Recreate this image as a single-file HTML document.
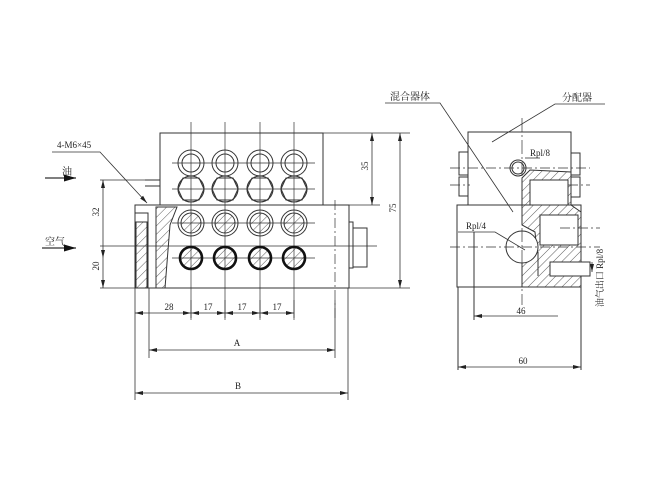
<!DOCTYPE html>
<html><head><meta charset="utf-8"><style>
html,body{margin:0;padding:0;background:#fff;}
svg{display:block;}
text{font-family:"Liberation Serif","Noto Serif CJK SC",serif;fill:#222;}
</style></head><body>
<svg width="651" height="489" viewBox="0 0 651 489" xmlns="http://www.w3.org/2000/svg">
<defs>
<pattern id="h" width="6" height="6" patternUnits="userSpaceOnUse" patternTransform="rotate(45)">
<line x1="0" y1="0" x2="0" y2="6" stroke="#333" stroke-width="0.8"/></pattern>
<marker id="a" markerWidth="8" markerHeight="6" refX="8" refY="3" orient="auto-start-reverse" markerUnits="userSpaceOnUse"><path d="M0,1 L8,3 L0,5z" fill="#222"/></marker>
<marker id="b" markerWidth="12" markerHeight="8" refX="12" refY="4" orient="auto" markerUnits="userSpaceOnUse"><path d="M0,0.5 L12,4 L0,7.5z" fill="#111"/></marker>
<g id="c1"><circle r="13" fill="none" stroke="#333" stroke-width="1"/><circle r="9" fill="none" stroke="#333" stroke-width="1"/></g>
<g id="c2"><path d="M-13,0 L-8,-11 L8,-11 L13,0 L8,11 L-8,11z" fill="none" stroke="#333"/><circle r="13" fill="none" stroke="#333" stroke-width="1.1"/></g>
<g id="c3"><circle r="13" fill="none" stroke="#333"/><circle r="10" fill="url(#h)" stroke="#333"/></g>
<g id="c4"><circle r="11" fill="url(#h)" stroke="#111" stroke-width="2.6"/></g>
</defs>
<g stroke="#333" stroke-width="1" fill="none">
<rect x="160" y="133" width="163" height="72"/>
<rect x="135" y="205" width="214" height="83"/>
<rect x="349" y="222" width="4" height="46"/>
<rect x="353" y="228" width="14" height="39"/>
<path d="M135,213 H148 V288" />
<path d="M136,222 H147 V288 H136z" fill="url(#h)"/>
<path d="M156,207 L177,207 L170,225 L165,288 L156,288z" fill="url(#h)"/>
<path d="M160,180 H145 M160,186 H145" />
<g stroke-width="0.7">
<path d="M191,122 V320 M225,122 V320 M260,122 V320 M294,122 V320"/>
<path d="M172,163 H315 M172,189 H315 M172,223 H315 M172,258 H315"/>
<path d="M100,246 H377"/>
<path d="M335,200 V320" stroke-dasharray="10,3,2,3"/>
</g>
</g>
<use href="#c1" x="191" y="163"/><use href="#c1" x="225" y="163"/><use href="#c1" x="260" y="163"/><use href="#c1" x="294" y="163"/>
<use href="#c2" x="191" y="189"/><use href="#c2" x="225" y="189"/><use href="#c2" x="260" y="189"/><use href="#c2" x="294" y="189"/>
<use href="#c3" x="191" y="223"/><use href="#c3" x="225" y="223"/><use href="#c3" x="260" y="223"/><use href="#c3" x="294" y="223"/>
<use href="#c4" x="191" y="258"/><use href="#c4" x="225" y="258"/><use href="#c4" x="260" y="258"/><use href="#c4" x="294" y="258"/>

<g stroke="#333" stroke-width="0.8" fill="none">
<path d="M100,180 H160 M100,288 H135"/>
<path d="M103,180 V258" marker-start="url(#a)" marker-end="url(#a)"/>
<path d="M103,258 V288" marker-end="url(#a)"/>
<path d="M323,133 H410 M349,288 H410 M349,205 H380"/>
<path d="M372,133 V205" marker-start="url(#a)" marker-end="url(#a)"/>
<path d="M400,133 V288" marker-start="url(#a)" marker-end="url(#a)"/>
<path d="M52,152 H100 L147,203" marker-end="url(#a)"/>
<path d="M45,178 H76" marker-end="url(#b)" stroke-width="1.2"/>
<path d="M42,248 H76" marker-end="url(#b)" stroke-width="1.2"/>
<path d="M135,288 V400 M149,288 V358 M191,300 V318 M225,300 V318 M260,300 V318 M294,300 V318 M335,300 V358 M348,288 V400"/>
<path d="M135,313 H191" marker-start="url(#a)" marker-end="url(#a)"/>
<path d="M191,313 H225" marker-start="url(#a)" marker-end="url(#a)"/>
<path d="M225,313 H260" marker-start="url(#a)" marker-end="url(#a)"/>
<path d="M260,313 H294" marker-start="url(#a)" marker-end="url(#a)"/>
<path d="M149,350 H335" marker-start="url(#a)" marker-end="url(#a)"/>
<path d="M135,393 H348" marker-start="url(#a)" marker-end="url(#a)"/>
</g>
<text x="57" y="148" font-size="9">4-M6×45</text>
<text x="62" y="175" font-size="10">油</text>
<text x="45" y="245" font-size="10">空气</text>
<text x="99" y="212" font-size="9" transform="rotate(-90 99 212)" text-anchor="middle">32</text>
<text x="99" y="266" font-size="9" transform="rotate(-90 99 266)" text-anchor="middle">20</text>
<text x="368" y="166" font-size="9" transform="rotate(-90 368 166)" text-anchor="middle">35</text>
<text x="396" y="208" font-size="9" transform="rotate(-90 396 208)" text-anchor="middle">75</text>
<g font-size="9" text-anchor="middle">
<text x="169" y="310">28</text><text x="208" y="310">17</text><text x="242" y="310">17</text><text x="277" y="310">17</text>
<text x="237" y="346">A</text><text x="238" y="389">B</text>
<text x="521" y="314">46</text><text x="523" y="364">60</text>
</g>

<g stroke="#333" stroke-width="1" fill="none">
<rect x="468" y="132" width="103" height="73"/>
<rect x="457" y="205" width="124" height="82"/>
<rect x="459" y="152" width="9" height="23"/><rect x="459" y="177" width="9" height="19"/>
<rect x="571" y="153" width="9" height="22"/><rect x="571" y="177" width="9" height="20"/>
<path d="M522,178 L530,170 L571,172 L571,205 L581,212 L581,287 L522,287 L522,262 A16,16 0 0 0 537,252 L535,232 L522,225 Z" fill="url(#h)"/>
<path d="M530,180 H568 V205 H530z" fill="#fff"/>
<path d="M540,215 H578 V245 H540z" fill="#fff"/>
<path d="M550,262 H590 V276 H550z" fill="#fff"/>
<path d="M538,252 V276"/>
<circle cx="522" cy="247" r="16" fill="#fff"/>
<circle cx="518" cy="168" r="8" fill="#fff"/>
<circle cx="518" cy="168" r="6"/>
<g stroke-width="0.7">
<path d="M522,118 V305" stroke-dasharray="14,3,2,3"/>
<path d="M450,168 H590 M450,185 H470 M568,185 H590 M450,247 H600 M560,228 H600" stroke-dasharray="10,3,2,3"/>
</g>
<path d="M474,232 V320 M458,287 V370 M581,287 V370"/>
</g>
<g stroke="#333" stroke-width="0.8" fill="none">
<path d="M474,316 H558" marker-start="url(#a)"/>
<path d="M458,367 H581" marker-start="url(#a)" marker-end="url(#a)"/>
<path d="M385,103 H440 L513,212"/>
<path d="M605,104 H555 L492,142"/>
<path d="M525,158 H540"/>
<path d="M458,232 H495 L525,250"/>
<path d="M592,262 V272" marker-end="url(#a)"/>
</g>
<text x="390" y="100" font-size="10">混合器体</text>
<text x="562" y="101" font-size="10">分配器</text>
<text x="530" y="156" font-size="9">Rpl/8</text>
<text x="466" y="229" font-size="9">Rpl/4</text>
<text x="603" y="278" font-size="9" transform="rotate(-90 603 278)" text-anchor="middle">油气出口 Rpl/8</text>
</svg>
</body></html>
